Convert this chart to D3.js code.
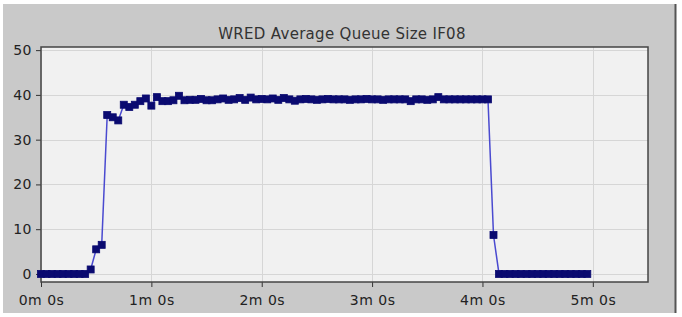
<!DOCTYPE html>
<html>
<head>
<meta charset="utf-8">
<script src="https://cdn.jsdelivr.net/npm/d3@7"></script>
<style>
  body { margin: 0; background: #ffffff; }
  svg { display: block; }
</style>
</head>
<body>
<svg id="chart" width="682" height="317"></svg>
<script>
// WRED average queue size, sampled every 3 seconds
var sampleTimes = [
    0, 3, 6, 9, 12, 15, 18, 21, 24, 27,
    30, 33, 36, 39, 42, 45, 48, 51, 54, 57,
    60, 63, 66, 69, 72, 75, 78, 81, 84, 87,
    90, 93, 96, 99, 102, 105, 108, 111, 114, 117,
    120, 123, 126, 129, 132, 135, 138, 141, 144, 147,
    150, 153, 156, 159, 162, 165, 168, 171, 174, 177,
    180, 183, 186, 189, 192, 195, 198, 201, 204, 207,
    210, 213, 216, 219, 222, 225, 228, 231, 234, 237,
    240, 243, 246, 249, 252, 255, 258, 261, 264, 267,
    270, 273, 276, 279, 282, 285, 288, 291, 294, 297
];
var queueSizes = [
    0, 0, 0, 0, 0, 0, 0, 0, 0, 1,
    5.5, 6.5, 35.5, 35, 34.3, 37.8, 37.3, 37.8, 38.6, 39.2,
    37.6, 39.5, 38.6, 38.6, 38.8, 39.8, 38.8, 38.9, 38.9, 39.1,
    38.8, 38.8, 39, 39.2, 38.9, 39, 39.3, 38.9, 39.4, 39,
    39.1, 39, 39.2, 38.9, 39.3, 39, 38.7, 39, 39.1, 39,
    38.9, 39, 39.1, 39, 39, 39, 38.9, 39, 39, 39.1,
    39, 39, 38.9, 39, 39, 39, 39, 38.6, 39, 39,
    38.9, 39, 39.5, 39, 39, 39, 39, 39, 39, 39,
    39, 39, 8.7, 0, 0, 0, 0, 0, 0, 0,
    0, 0, 0, 0, 0, 0, 0, 0, 0, 0
];
var yTicks = [0, 10, 20, 30, 40, 50];
var xTicks = [0, 60, 120, 180, 240, 300];
var xTickLabels = ["0m 0s", "1m 0s", "2m 0s", "3m 0s", "4m 0s", "5m 0s"];
var chartTitle = "WRED Average Queue Size IF08";

var svg = d3.select("#chart");

var plot = { left: 41, right: 648, top: 47, bottom: 282 };

var x = d3.scaleLinear().domain([0, 330]).range([plot.left, plot.right]);
var y = d3.scaleLinear().domain([-1.8, 50.7]).range([plot.bottom, plot.top]);

// grey panel behind everything
svg.append("rect")
    .attr("x", 3).attr("y", 4)
    .attr("width", 672).attr("height", 309)
    .attr("fill", "#c9c9c9");
svg.append("line")
    .attr("x1", 675.5).attr("x2", 675.5)
    .attr("y1", 4).attr("y2", 313)
    .attr("stroke", "#555").attr("stroke-width", 2);

svg.append("text")
    .attr("x", 342).attr("y", 39)
    .attr("text-anchor", "middle")
    .attr("font-family", "DejaVu Sans, sans-serif")
    .attr("font-size", 15)
    .attr("letter-spacing", 0.3)
    .attr("fill", "#333")
    .text(chartTitle);

// plot background
svg.append("rect")
    .attr("x", plot.left).attr("y", plot.top)
    .attr("width", plot.right - plot.left)
    .attr("height", plot.bottom - plot.top)
    .attr("fill", "#f1f1f1");

var grid = svg.append("g").attr("stroke", "#d6d6d6").attr("stroke-width", 1);
grid.selectAll("line.h").data(yTicks).enter().append("line")
    .attr("x1", plot.left).attr("x2", plot.right)
    .attr("y1", function(d) { return Math.round(y(d)) + 0.5; })
    .attr("y2", function(d) { return Math.round(y(d)) + 0.5; });
grid.selectAll("line.v").data(xTicks).enter().append("line")
    .attr("y1", plot.top).attr("y2", plot.bottom)
    .attr("x1", function(d) { return Math.round(x(d)) + 0.5; })
    .attr("x2", function(d) { return Math.round(x(d)) + 0.5; });

// axes
var yAxis = d3.axisLeft(y).tickValues(yTicks).tickSize(5).tickPadding(4);
var xAxis = d3.axisBottom(x).tickValues(xTicks).tickSize(5).tickPadding(8)
    .tickFormat(function(d, i) { return xTickLabels[i]; });

var gy = svg.append("g").attr("transform", "translate(" + plot.left + ",0)").call(yAxis);
var gx = svg.append("g").attr("transform", "translate(0," + plot.bottom + ")").call(xAxis);

[gy, gx].forEach(function(g) {
    g.select(".domain").remove();
    g.selectAll("line").attr("stroke", "#333");
    g.selectAll("text")
        .attr("font-family", "DejaVu Sans, sans-serif")
        .attr("font-size", 14)
        .attr("letter-spacing", 0.5)
        .attr("fill", "#222");
});

// plot border
svg.append("rect")
    .attr("x", plot.left).attr("y", plot.top)
    .attr("width", plot.right - plot.left)
    .attr("height", plot.bottom - plot.top)
    .attr("fill", "none")
    .attr("stroke", "#444")
    .attr("stroke-width", 1.5);

// series
var points = sampleTimes.map(function(t, i) { return { t: t, v: queueSizes[i] }; });

var line = d3.line()
    .x(function(d) { return x(d.t); })
    .y(function(d) { return y(d.v); });

svg.append("path")
    .datum(points)
    .attr("d", line)
    .attr("fill", "none")
    .attr("stroke", "#4a4ad0")
    .attr("stroke-width", 1.5);

var markerSize = 7;
svg.append("g").selectAll("rect").data(points).enter().append("rect")
    .attr("x", function(d) { return x(d.t) - markerSize / 2; })
    .attr("y", function(d) { return y(d.v) - markerSize / 2; })
    .attr("width", markerSize)
    .attr("height", markerSize)
    .attr("fill", "#0a0a70")
    .attr("stroke", "#0a0a70")
    .attr("stroke-width", 0.8);
</script>
</body>
</html>
